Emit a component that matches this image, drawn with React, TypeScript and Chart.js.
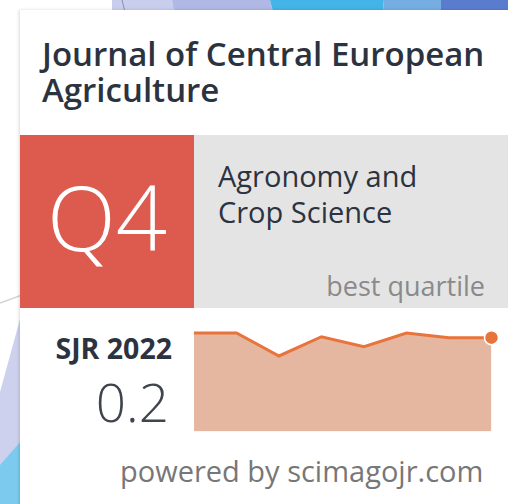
import React, { useEffect, useRef } from "react";
import { Chart, registerables } from "chart.js";

Chart.register(...registerables);

const years = ["2015", "2016", "2017", "2018", "2019", "2020", "2021", "2022"];
const sjrValues = [0.21, 0.21, 0.161, 0.202, 0.181, 0.21, 0.2, 0.2];
const pointSizes = [0, 0, 0, 0, 0, 0, 0, 7];

const journalTitle = ["Journal of Central European", "Agriculture"];
const categoryLines = ["Agronomy and", "Crop Science"];
const quartile = "Q4";
const sjrLabel = "SJR 2022";
const sjrValueLabel = "0.2";

const FONT = '"Open Sans", "Noto Sans", sans-serif';

function SjrChart() {
  const ref = useRef<HTMLCanvasElement | null>(null);
  useEffect(() => {
    if (!ref.current) return;
    const chart = new Chart(ref.current, {
      type: "line",
      data: {
        labels: years,
        datasets: [
          {
            data: sjrValues,
            borderColor: "#e8733b",
            backgroundColor: "rgb(229,182,160)",
            borderWidth: 3,
            fill: "origin",
            tension: 0,
            pointRadius: pointSizes,
            pointBackgroundColor: "#e8733b",
            pointBorderColor: "#ffffff",
            pointBorderWidth: 1.5,
            clip: false as any,
          },
        ],
      },
      options: {
        animation: false,
        responsive: false,
        layout: { padding: { left: 14, right: 8, top: 15, bottom: 4 } },
        scales: {
          x: { display: false, offset: false },
          y: { display: false, min: 0, max: 0.21 },
        },
        plugins: { legend: { display: false }, tooltip: { enabled: false } },
        events: [],
      },
    });
    return () => chart.destroy();
  }, []);
  return (
    <canvas
      ref={ref}
      width={320}
      height={122}
      style={{ position: "absolute", left: 180, top: 318, width: 320, height: 122 }}
    />
  );
}

export default function App() {
  return (
    <div
      style={{
        position: "fixed",
        left: 0,
        top: 0,
        width: 508,
        height: 504,
        overflow: "hidden",
        background: "#ffffff",
        fontFamily: FONT,
      }}
    >
      <svg width={508} height={504} style={{ position: "absolute", left: 0, top: 0 }}>
        <polygon points="112,0 172,0 174,12 112,12" fill="#c9cdee" />
        <polygon points="172,0 270,0 273,12 174,12" fill="#b0b8e6" />
        <polygon points="270,0 383,0 384,12 273,12" fill="#43b3e8" />
        <polygon points="383,0 441,0 441,12 384,12" fill="#76ade2" />
        <polygon points="441,0 508,0 508,12 441,12" fill="#5a7ccf" />
        <line x1={122} y1={0} x2={125} y2={12} stroke="#8c90a8" strokeWidth={1} />
        <line x1={0} y1={303} x2={22} y2={295} stroke="#d4d4d4" strokeWidth={1.5} />
        <polygon points="22,312 22,504 0,504 0,392" fill="#cdd1ee" />
        <polygon points="22,440 22,504 0,504 0,465" fill="#7ccbee" />
      </svg>
      <div
        style={{
          position: "absolute",
          left: 20,
          top: 10,
          width: 500,
          height: 510,
          background: "#ffffff",
          boxShadow: "-1px 0 3px rgba(0,0,0,0.15)",
        }}
      />
      <div
        style={{
          position: "absolute",
          left: 42,
          top: 36,
          fontSize: 33,
          fontWeight: 600,
          lineHeight: "36px",
          color: "#2c3340",
          whiteSpace: "nowrap",
        }}
      >
        {journalTitle.map((t) => (
          <div key={t}>{t}</div>
        ))}
      </div>
      <div
        style={{
          position: "absolute",
          left: 20,
          top: 135,
          width: 174,
          height: 173,
          background: "#dd5a4e",
        }}
      />
      <div
        style={{
          position: "absolute",
          left: 194,
          top: 135,
          width: 314,
          height: 173,
          background: "#e4e4e4",
        }}
      />
      <div
        style={{
          position: "absolute",
          left: 20,
          top: 129,
          width: 174,
          height: 173,
          display: "flex",
          alignItems: "center",
          justifyContent: "center",
          color: "#ffffff",
          fontSize: 90,
          fontWeight: 300,
          lineHeight: 1,
        }}
      >
        {quartile}
      </div>
      <div
        style={{
          position: "absolute",
          left: 218,
          top: 158,
          fontSize: 29,
          lineHeight: "36px",
          color: "#2c3340",
          whiteSpace: "nowrap",
        }}
      >
        {categoryLines.map((t) => (
          <div key={t}>{t}</div>
        ))}
      </div>
      <div
        style={{
          position: "absolute",
          right: 23,
          top: 268,
          fontSize: 27,
          lineHeight: 1.362,
          color: "#8a8a8a",
          whiteSpace: "nowrap",
        }}
      >
        best quartile
      </div>
      <div
        style={{
          position: "absolute",
          right: 336,
          top: 329,
          fontSize: 28.5,
          lineHeight: 1.362,
          fontWeight: 700,
          color: "#2c3340",
          whiteSpace: "nowrap",
        }}
      >
        {sjrLabel}
      </div>
      <div
        style={{
          position: "absolute",
          right: 339,
          top: 370,
          fontSize: 53,
          fontWeight: 300,
          color: "#3f444d",
          whiteSpace: "nowrap",
          lineHeight: 1.2,
        }}
      >
        {sjrValueLabel}
      </div>
      <SjrChart />
      <div
        style={{
          position: "absolute",
          left: 120,
          top: 451,
          fontSize: 29,
          lineHeight: 1.362,
          color: "#777777",
          whiteSpace: "nowrap",
        }}
      >
        powered by scimagojr.com
      </div>
    </div>
  );
}
